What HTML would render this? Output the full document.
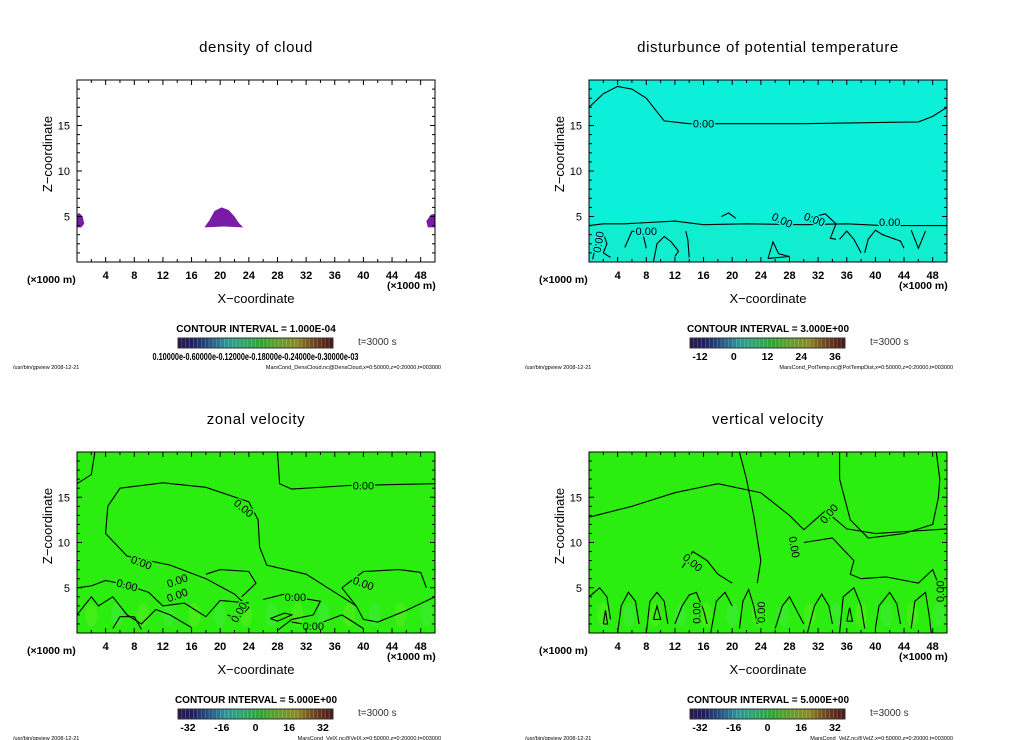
<!DOCTYPE html>
<html><head><meta charset="utf-8"><style>
html,body{margin:0;padding:0;background:#fff;}
svg{display:block;font-family:"Liberation Sans",sans-serif;}
</style></head><body>
<svg id="fig" width="1024" height="740" viewBox="0 0 1024 740" xmlns="http://www.w3.org/2000/svg"></svg>
<script>
const xTicks=[4,8,12,16,20,24,28,32,36,40,44,48];
const zTicks=[5,10,15];
const xMax=50, zMax=20;
const titles=["density of cloud","disturbunce of potential temperature","zonal velocity","vertical velocity"];
const intervals=["1.000E-04","3.000E+00","5.000E+00","5.000E+00"];
const cbLabels=[["0.10000e-03  0.60000e-04  0.12000e-03  0.18000e-03  0.24000e-03  0.30000e-03"],["-12","0","12","24","36"],["-32","-16","0","16","32"],["-32","-16","0","16","32"]];
const footers=["MarsCond_DensCloud.nc@DensCloud,x=0:50000,z=0:20000,t=003000","MarsCond_PotTemp.nc@PotTempDist,x=0:50000,z=0:20000,t=003000","MarsCond_VelX.nc@VelX,x=0:50000,z=0:20000,t=003000","MarsCond_VelZ.nc@VelZ,x=0:50000,z=0:20000,t=003000"];
// cloud outlines (x,z)
const cloudBlobs=[
 [[0,3.8],[0.6,3.8],[1,4.2],[0.8,5],[0.3,5.4],[0,5.2]],
 [[17.8,3.8],[18.5,4.6],[19.2,5.6],[20.2,6],[21.2,5.7],[22,5],[22.6,4.3],[23.2,3.8],[20.5,3.9]],
 [[49,3.8],[50,3.8],[50,5.3],[49.4,5.2],[48.8,4.5]]
];
// potential temperature contours (x,z)
const ptLines=[
 [[0,17],[2,18.5],[4,19.3],[6,19],[8,18],[9.5,16.5],[10.5,15.5],[14,15.2],[30,15.2],[46,15.4],[48,16],[50,17]],
 [[0,4],[2,4.2],[5,4.2],[12,4.5],[16,4.1],[22,4.2],[30,4.1],[36,4.2],[41,4],[50,4]],
 [[0.5,0.3],[1,2],[2,3.2],[2.5,2],[2,1],[3,0.5]],
 [[5,1.6],[6,3.4],[7.5,3.2],[8,1.5]],
 [[9,0],[9.5,2],[10.5,2.8],[11.5,2.2],[12.5,1.2],[12,0.6]],
 [[14,0.5],[13.8,2.5],[13.5,3.4]],
 [[25,0.4],[25.7,2.2],[26.5,0.9],[28,0.6],[25,0.4]],
 [[31,4.9],[33,5.3],[34.5,4.2],[33.7,2.6],[34.5,2.5]],
 [[35,2.5],[36,3.4],[37,2.5],[38,1]],
 [[38.5,1],[39,2.5],[40,3.5],[41,3],[43.5,2.3],[44,1.5]],
 [[45,3.5],[46,1.5],[47,3.4]],
 [[18.5,5],[19.5,5.4],[20.5,4.8]]
];
// zonal velocity contours
const uLines=[
 [[0,16.5],[2,17.5],[2.5,20]],
 [[28,20],[28.3,16.5],[30,15.9],[38,16.3],[50,16.5]],
 [[4,11],[4.3,14],[6,16],[12,16.6],[18,16.1],[24,14.5],[25.3,12.5],[25.5,9.5],[26.5,7.5],[32,6.5],[37,4],[39,3]],
 [[4,11],[7,8.5],[13,7.5],[18,6],[22,4.3],[24,2.8],[22.5,1.5],[21,2]],
 [[0,5],[2,5.2],[4,5.8],[7,5.3],[10,4.5],[12,3],[15,3.3],[18,1.8],[20,3.6],[24,3.3]],
 [[18,6.5],[20,7],[24,6.8],[25,5.5],[23,4]],
 [[37,5],[40,6.8],[45,7],[48,6.7],[48.8,5]],
 [[37,5],[39,3],[40,1.5],[42,1.2],[46,2.5],[50,4]],
 [[0,2],[2,4],[3,3],[5,4],[7,2],[9,1],[11,2.6],[13,2],[16,0.6]],
 [[26,3.7],[29,4.3],[31,3.9],[34,3.5],[33,2],[30,1.5],[28,0.3]],
 [[30,1.2],[33,0.8],[37,2],[40,0.5]],
 [[5,0.5],[6,1.8],[8,1.8],[9,0.4]],
 [[27,1.6],[29,2.2],[30,2],[28,1.3],[27,1.6]]
];
// vertical velocity contours
const wLines=[
 [[0,12.8],[6,14],[12,15.5],[18,16.5],[24,15.5],[28,13],[30,11.4],[32,12.8],[33,13.5],[36,11.5],[40,11],[50,11.5]],
 [[21,20],[22,17],[23,13],[24,8],[23.5,5.5]],
 [[35,20],[35,17],[36.5,12.5],[39,10.5],[44,11],[48,12],[48.8,15],[49,17],[48.5,20]],
 [[13,7.2],[14.5,9],[16.5,8],[18,6.5],[20,5.5]],
 [[30,10],[34,10.5],[37,8],[36.5,6.5],[38,6],[41.5,6.2],[46,5.5],[48,7],[49,5]],
 [[0,4],[1.5,5],[2.5,4],[3,1.5]],
 [[4,0],[4.5,3],[5.5,4.5],[6.5,3.5],[7,1]],
 [[8,0],[8.5,3.5],[9.5,4.5],[10.5,3.5],[11,1]],
 [[12,1],[13,3],[14,4.2],[15,4.5],[16,2.5],[16.5,1]],
 [[17,0],[17.8,3.5],[19,4.5],[20,3]],
 [[21,0.5],[21.5,3.5],[22.3,4.8],[23,3],[23.5,1]],
 [[26,0.5],[27,3],[28,4],[29,2.5],[30,1]],
 [[30.5,0],[31.5,3],[32.5,4.3],[33.5,3],[34,1]],
 [[35,0],[35.5,4],[37,5],[38,3],[38.5,0.5]],
 [[40,0.5],[40.5,3],[42,4.5],[43,3.2],[43.5,1]],
 [[45,0.5],[45.5,3.5],[47,4.5],[47.5,2],[47.8,0]],
 [[2,1],[2.3,2.5],[2.6,1],[2,1]],
 [[9,1.5],[9.5,3],[10,1.5],[9,1.5]],
 [[36,1.3],[36.4,2.8],[36.8,1.3],[36,1.3]]
];
const panels=[
 {x0:77,y0:80,w:358,h:182,fill:"#ffffff",lines:[],labels:[]},
 {x0:589,y0:80,w:358,h:182,fill:"#0cf0da",lines:ptLines,labels:[[16,15.2,0],[8,3.4,0],[1.3,2.2,-80],[27,4.6,25],[42,4.4,0],[31.5,4.7,20]]},
 {x0:77,y0:452,w:358,h:181,fill:"#2ced10",lines:uLines,labels:[[40,16.3,0],[23.3,13.8,40],[9,7.8,20],[7,5.3,15],[14,5.8,-20],[14,4.2,-20],[30.5,4,0],[40,5.5,20],[33,0.8,0],[22.6,2.3,-60]]},
 {x0:589,y0:452,w:358,h:181,fill:"#2ced10",lines:wLines,labels:[[33.5,13.2,-50],[14.5,7.8,40],[28.7,9.5,80],[49,4.6,-90],[15,2.2,-90],[24,2.3,-90]]}
];
const svg=document.getElementById('fig');
const NS="http://www.w3.org/2000/svg";
function mk(tag,attrs,parent){const e=document.createElementNS(NS,tag);for(const k in attrs)e.setAttribute(k,attrs[k]);(parent||svg).appendChild(e);return e;}
function txt(s,attrs,parent){const e=mk('text',attrs,parent);e.textContent=s;return e;}
panels.forEach((p,i)=>{
 const g=mk('g',{});
 
 
 const sx=v=>p.x0+v/xMax*p.w, sz=v=>p.y0+p.h-v/zMax*p.h;
 const cx=p.x0+p.w/2;
 const bg=mk('rect',{x:p.x0,y:p.y0,width:p.w,height:p.h,fill:p.fill},g);
 
 
 if(i>=2){
  for(let k=0;k<14;k++){const e=mk('ellipse',{cx:sx(2+k*3.6),cy:sz(2),rx:6,ry:12,fill:(k%2?"#4fe860":"#7cf020"),opacity:0.3},g);
   }
 }
 if(i==1){const b=mk('rect',{x:p.x0,y:sz(4.3),width:p.w,height:sz(0)-sz(4.3),fill:"#14ecc8",opacity:0.6},g);
  }
 if(i==0){cloudBlobs.forEach(b=>{const d=b.map((pt,j)=>(j?'L':'M')+sx(pt[0]).toFixed(1)+','+sz(pt[1]).toFixed(1)).join(' ')+'Z';
   const e=mk('path',{d:d,fill:"#7a1aa8"},g);
   });}
 p.lines.forEach(l=>{const d=l.map((pt,j)=>(j?'L':'M')+sx(pt[0]).toFixed(1)+','+sz(pt[1]).toFixed(1)).join(' ');
  const e=mk('path',{d:d,fill:'none',stroke:'#000','stroke-width':1.1},g);
  });
 p.labels.forEach(l=>{const e=txt('0.00',{x:sx(l[0]),y:sz(l[1])+4,'font-size':11,'text-anchor':'middle',transform:`rotate(${l[2]} ${sx(l[0])} ${sz(l[1])})`,fill:'#000',stroke:p.fill,'stroke-width':3,'paint-order':'stroke'},g);
  });
 const fr=mk('rect',{x:p.x0,y:p.y0,width:p.w,height:p.h,fill:'none',stroke:'#000','stroke-width':1},g);
 
 for(let v=2;v<xMax;v+=2){const L=(v%4==0)?5:3;
  mk('line',{x1:sx(v),x2:sx(v),y1:p.y0+p.h,y2:p.y0+p.h-L,stroke:'#000'},g);
  mk('line',{x1:sx(v),x2:sx(v),y1:p.y0,y2:p.y0+L,stroke:'#000'},g);}
 for(let v=1;v<zMax;v+=1){const L=(v%5==0)?5:3;
  mk('line',{y1:sz(v),y2:sz(v),x1:p.x0,x2:p.x0+L,stroke:'#000'},g);
  mk('line',{y1:sz(v),y2:sz(v),x1:p.x0+p.w,x2:p.x0+p.w-L,stroke:'#000'},g);}
 xTicks.forEach(v=>{const e=txt(String(v),{x:sx(v),y:p.y0+p.h+17,'font-size':11,'font-weight':'bold','text-anchor':'middle'},g);
  });
 zTicks.forEach(v=>{const e=txt(String(v),{x:p.x0-7,y:sz(v)+4,'font-size':11,'text-anchor':'end'},g);
  });
 const by=p.y0+p.h;
 let e=txt(titles[i],{x:cx,y:p.y0-28,'font-size':15,'text-anchor':'middle','letter-spacing':'0.6'},g);
 
 e=txt('Z\u2212coordinate',{x:0,y:0,'font-size':13,'text-anchor':'middle',transform:`translate(${p.x0-25},${p.y0+74}) rotate(-90)`},g);
 
 e=txt('(\u00d71000 m)',{x:p.x0-50,y:by+21,'font-size':10.5,'font-weight':'bold'},g);
 
 e=txt('(\u00d71000 m)',{x:p.x0+p.w-48,y:by+27,'font-size':10.5,'font-weight':'bold'},g);
 
 e=txt('X\u2212coordinate',{x:cx,y:by+41,'font-size':13,'text-anchor':'middle'},g);
 
 e=txt('CONTOUR INTERVAL = '+intervals[i],{x:cx,y:by+70,'font-size':10,'font-weight':'bold','text-anchor':'middle'},g);
 
 const cb=mk('g',{},g);
 
 const cbx=p.x0+101,cby=by+76,cbw=155,n=40;
 for(let k=0;k<n;k++){const t=k/(n-1);let h=260-t*260;let l=20+22*Math.sin(Math.PI*t);
  mk('rect',{x:cbx+k*cbw/n,y:cby,width:cbw/n+0.3,height:10,fill:`hsl(${h},55%,${l}%)`},cb);
  mk('line',{x1:cbx+k*cbw/n,x2:cbx+k*cbw/n,y1:cby,y2:cby+10,stroke:'rgba(255,255,255,0.3)','stroke-width':0.6},cb);}
 mk('rect',{x:cbx,y:cby,width:cbw,height:10,fill:'none',stroke:'#333'},cb);
 const labs=cbLabels[i];
 if(i==0){e=txt('0.10000e-0.60000e-0.12000e-0.18000e-0.24000e-0.30000e-03',{x:cbx+cbw/2,y:cby+22,'font-size':10.5,'font-weight':'bold','text-anchor':'middle',textLength:206,lengthAdjust:'spacingAndGlyphs'},g);
  }
 else labs.forEach((s,k)=>{const e2=txt(s,{x:cbx+10+k*(cbw-20)/(labs.length-1),y:cby+22,'font-size':10.5,'font-weight':'bold','text-anchor':'middle'},g);
  });
 e=txt('t=3000 s',{x:cbx+180,y:cby+7,'font-size':10,fill:'#333'},g);
 
 e=txt('/usr/bin/gpview   2008-12-21',{x:p.x0-64,y:cby+31,'font-size':5.5},g);
 
 e=txt(footers[i],{x:p.x0+p.w+6,y:cby+31,'font-size':5.5,'text-anchor':'end'},g);
 
});
</script>
</body></html>
